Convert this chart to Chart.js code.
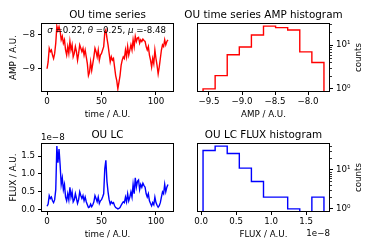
<!DOCTYPE html>
<html><head><meta charset="utf-8">
<script src="https://cdn.jsdelivr.net/npm/chart.js@4.4.0/dist/chart.umd.min.js"></script>
<style>
html,body{margin:0;padding:0;background:#fff;}
#wrap{position:relative;width:374px;height:249px;overflow:hidden;background:#fff;}
canvas{position:absolute;}
</style></head><body>
<div id="wrap">
<canvas id="c1" width="180" height="125" style="left:0;top:0"></canvas>
<canvas id="c2" width="197" height="125" style="left:177px;top:0"></canvas>
<canvas id="c3" width="180" height="124" style="left:0;top:125px"></canvas>
<canvas id="c4" width="197" height="124" style="left:177px;top:125px"></canvas>
</div>
<script>
// ---------------- data ----------------
const timeValues = [0,1,2,3,4,5,6,7,8,9,10,11,12,13,14,15,16,17,18,19,20,21,22,23,24,25,26,27,28,29,30,31,32,33,34,35,36,37,38,39,40,41,42,43,44,45,46,47,48,49,50,51,52,53,54,55,56,57,58,59,60,61,62,63,64,65,66,67,68,69,70,71,72,73,74,75,76,77,78,79,80,81,82,83,84,85,86,87,88,89,90,91,92,93,94,95,96,97,98,99,100,101,102,103,104,105,106,107,108,109,110,111];
const ampValues = [
 -9.00,-8.80,-8.40,-8.50,-8.45,-8.60,-8.70,-8.55,-8.25,-7.75,
 -7.88,-7.77,-7.90,-8.15,-8.05,-8.25,-8.15,-8.45,-8.60,-8.35,
 -8.55,-8.20,-8.45,-8.30,-8.65,-8.55,-8.35,-8.50,-8.75,-8.55,
 -8.30,-8.40,-8.50,-8.40,-8.60,-8.45,-8.65,-8.85,-9.20,-9.10,
 -8.80,-9.05,-8.85,-8.65,-8.40,-8.50,-8.65,-8.45,-8.75,-8.60,
 -8.55,-8.45,-8.35,-7.94,-7.86,-8.10,-8.30,-8.55,-8.80,-8.65,
 -8.75,-8.70,-8.95,-9.20,-9.35,-9.59,-9.40,-9.20,-8.90,-8.75,
 -8.65,-8.70,-8.45,-8.65,-8.35,-8.60,-8.45,-8.30,-8.45,-8.15,
 -8.35,-8.05,-8.20,-8.10,-8.08,-8.25,-8.15,-8.20,-8.13,-8.17,
 -8.20,-8.35,-8.45,-8.35,-8.60,-8.75,-8.95,-8.70,-8.85,-8.45,
 -8.70,-8.90,-9.15,-8.95,-8.70,-8.45,-8.30,-8.35,-8.15,-8.30,
 -8.20,-8.15];
// flux in units of 1e-8
const fluxValues = [
 0.100,0.158,0.398,0.316,0.355,0.251,0.200,0.282,0.562,1.778,
 1.318,1.698,1.259,0.708,0.891,0.562,0.708,0.355,0.251,0.447,
 0.282,0.631,0.355,0.501,0.224,0.282,0.447,0.316,0.178,0.282,
 0.501,0.398,0.316,0.398,0.251,0.355,0.224,0.141,0.063,0.079,
 0.158,0.089,0.141,0.224,0.398,0.316,0.224,0.355,0.178,0.251,
 0.282,0.355,0.447,1.148,1.380,0.794,0.501,0.282,0.158,0.224,
 0.178,0.200,0.112,0.063,0.045,0.026,0.040,0.063,0.126,0.178,
 0.224,0.200,0.355,0.224,0.447,0.251,0.355,0.501,0.355,0.708,
 0.447,0.891,0.631,0.794,0.832,0.562,0.708,0.631,0.741,0.676,
 0.631,0.447,0.355,0.447,0.251,0.178,0.112,0.200,0.141,0.355,
 0.200,0.126,0.071,0.112,0.200,0.355,0.501,0.447,0.708,0.501,
 0.631,0.708];
const ampBinEdges = [-9.59,-9.407,-9.224,-9.041,-8.858,-8.675,-8.492,-8.309,-8.126,-7.943,-7.76];
const ampCounts = [1,2,6,9,17,27,25,22,7,4];
const fluxBinEdges = [0.026,0.199,0.372,0.545,0.718,0.891,1.064,1.237,1.410,1.583,1.756];
const fluxCounts = [31,40,26,11,5,2,2,1,0,2];
const timeTicks = [0,50,100];
const ampTicks = [-9,-8];
const fluxTicks = [0,0.5,1.0,1.5];
const ampHistTicks = [-9.5,-9.0,-8.5,-8.0];
const countTicks = [1,10];
const countTickLabels = ['10\u2070','10\u00b9'];
const countMinorTicks = [2,3,4,5,6,7,8,9,20,30,40];
const titles = ['OU time series','OU time series AMP histogram','OU LC','OU LC FLUX histogram'];
const paramParts = [['\u03c3',true],[' =0.22, ',false],['\u03b8',true],[' =0.25, ',false],['\u03bc',true],[' =-8.48',false]];

// ---------------- helpers ----------------
const FONT = "'DejaVu Sans', sans-serif";
const TICKFONT = {family: FONT, size: 8.7, lineHeight: 1.2};
function minus(s){ return s.replace('-', '\u2212'); }
function pad(lo, hi){ const d = (hi - lo) * 0.05; return [lo - d, hi + d]; }
function padLog(lo, hi){ const a = Math.log10(lo), b = Math.log10(hi), d = (b - a) * 0.05; return [Math.pow(10, a - d), Math.pow(10, b + d)]; }
function stepPoints(edges, counts, floor){
  const pts = [{x: edges[0], y: floor}];
  counts.forEach((c, i) => pts.push({x: edges[i], y: c > 0 ? c : floor}));
  pts.push({x: edges[edges.length - 1], y: floor});
  return pts;
}
function gridOpts(){ return {display: true, drawOnChartArea: false, drawTicks: true, tickLength: 3, tickColor: '#000', tickWidth: 1}; }

function deco(spec){
  return {
    id: 'deco',
    afterDraw(chart){
      const ctx = chart.ctx, a = chart.chartArea;
      ctx.save();
      if (spec.minor){
        const s = chart.scales.y;
        ctx.strokeStyle = '#000'; ctx.lineWidth = 0.8;
        spec.minor.forEach(v => {
          if (v < s.min || v > s.max) return;
          const py = Math.round(s.getPixelForValue(v)) + 0.5;
          ctx.beginPath(); ctx.moveTo(a.right, py); ctx.lineTo(a.right + 2, py); ctx.stroke();
        });
      }
      ctx.strokeStyle = '#000'; ctx.lineWidth = 1;
      ctx.strokeRect(a.left + 0.5, a.top + 0.5, a.right - a.left - 1, a.bottom - a.top - 1);
      ctx.fillStyle = '#000';
      ctx.textAlign = 'center'; ctx.textBaseline = 'middle';
      ctx.font = '10.4px ' + FONT;
      ctx.fillText(spec.title, (a.left + a.right) / 2, a.top - 8);
      ctx.font = '8.7px ' + FONT;
      ctx.fillText(spec.xlabel, (a.left + a.right) / 2, a.bottom + 23);
      ctx.save();
      ctx.translate(spec.ylabelRight ? a.right + 29 : 14, (a.top + a.bottom) / 2);
      ctx.rotate(-Math.PI / 2);
      ctx.fillText(spec.ylabel, 0, 0);
      ctx.restore();
      if (spec.offsetTop){ ctx.textAlign = 'left'; ctx.fillText('1e\u22128', a.left, a.top - 5.5); }
      if (spec.offsetBottom){ ctx.textAlign = 'right'; ctx.fillText('1e\u22128', a.right, a.bottom + 21.5); }
      if (spec.params){
        let x = a.left + 6.3; const y = a.top + 7.5;
        ctx.textAlign = 'left';
        spec.params.forEach(([t, it]) => {
          ctx.font = (it ? 'italic ' : '') + '8.7px ' + FONT;
          ctx.fillText(t, x, y);
          x += ctx.measureText(t).width;
        });
      }
      ctx.restore();
    }
  };
}

function baseOpts(){
  return {responsive: false, animation: false, devicePixelRatio: 1, events: [],
    plugins: {legend: {display: false}, tooltip: {enabled: false}, title: {display: false}}};
}

// ---------------- time series (top-left) ----------------
(function(){
  const [xmin, xmax] = pad(Math.min(...timeValues), Math.max(...timeValues));
  const [ymin, ymax] = pad(Math.min(...ampValues), Math.max(...ampValues));
  const o = baseOpts();
  o.layout = {padding: {top: 23, right: 6, left: 0, bottom: 0}};
  o.scales = {
    x: {type: 'linear', bounds: 'data', min: xmin, max: xmax, grid: gridOpts(), border: {display: false},
        afterBuildTicks: s => { s.ticks = timeTicks.map(v => ({value: v})); },
        ticks: {font: TICKFONT, color: '#000', padding: 2, maxRotation: 0, autoSkip: false, callback: v => String(v)},
        afterFit: s => { s.height = 33; }},
    y: {type: 'linear', bounds: 'data', min: ymin, max: ymax, grid: gridOpts(), border: {display: false},
        afterBuildTicks: s => { s.ticks = ampTicks.map(v => ({value: v})); },
        ticks: {font: TICKFONT, color: '#000', padding: 3, autoSkip: false, callback: v => minus(String(v))},
        afterFit: s => { s.width = 41; }}
  };
  new Chart(document.getElementById('c1'), {
    type: 'line',
    data: {datasets: [{data: timeValues.map((t, i) => ({x: t, y: ampValues[i]})), borderColor: '#ff0000', borderWidth: 1.4, pointRadius: 0, tension: 0, fill: false}]},
    options: o,
    plugins: [deco({title: titles[0], xlabel: 'time / A.U.', ylabel: 'AMP / A.U.', params: paramParts})]
  });
})();

// ---------------- AMP histogram (top-right) ----------------
(function(){
  const [xmin, xmax] = pad(ampBinEdges[0], ampBinEdges[ampBinEdges.length - 1]);
  const pos = ampCounts.filter(c => c > 0);
  const [ymin, ymax] = padLog(Math.min(...pos), Math.max(...pos));
  const o = baseOpts();
  o.layout = {padding: {top: 23, right: 0, left: 20, bottom: 0}};
  o.scales = {
    x: {type: 'linear', bounds: 'data', min: xmin, max: xmax, grid: gridOpts(), border: {display: false},
        afterBuildTicks: s => { s.ticks = ampHistTicks.map(v => ({value: v})); },
        ticks: {font: TICKFONT, color: '#000', padding: 2, maxRotation: 0, autoSkip: false, callback: v => minus(v.toFixed(1))},
        afterFit: s => { s.height = 33; }},
    y: {type: 'logarithmic', position: 'right', bounds: 'data', min: ymin, max: ymax, grid: gridOpts(), border: {display: false},
        afterBuildTicks: s => { s.ticks = countTicks.map(v => ({value: v})); },
        ticks: {font: TICKFONT, color: '#000', padding: 3, autoSkip: false, callback: (v) => countTickLabels[countTicks.indexOf(v)]},
        afterFit: s => { s.width = 44; }}
  };
  new Chart(document.getElementById('c2'), {
    type: 'line',
    data: {datasets: [{data: stepPoints(ampBinEdges, ampCounts, 0.01), stepped: 'before', borderColor: '#ff0000', borderWidth: 1.4, pointRadius: 0, fill: false, clip: 0}]},
    options: o,
    plugins: [deco({title: titles[1], xlabel: 'AMP / A.U.', ylabel: 'counts', ylabelRight: true, minor: countMinorTicks})]
  });
})();

// ---------------- light curve (bottom-left) ----------------
(function(){
  const [xmin, xmax] = pad(Math.min(...timeValues), Math.max(...timeValues));
  const [ymin, ymax] = pad(Math.min(...fluxValues), Math.max(...fluxValues));
  const o = baseOpts();
  o.layout = {padding: {top: 18, right: 6, left: 0, bottom: 0}};
  o.scales = {
    x: {type: 'linear', bounds: 'data', min: xmin, max: xmax, grid: gridOpts(), border: {display: false},
        afterBuildTicks: s => { s.ticks = timeTicks.map(v => ({value: v})); },
        ticks: {font: TICKFONT, color: '#000', padding: 2, maxRotation: 0, autoSkip: false, callback: v => String(v)},
        afterFit: s => { s.height = 37; }},
    y: {type: 'linear', bounds: 'data', min: ymin, max: ymax, grid: gridOpts(), border: {display: false},
        afterBuildTicks: s => { s.ticks = fluxTicks.map(v => ({value: v})); },
        ticks: {font: TICKFONT, color: '#000', padding: 3, autoSkip: false, callback: v => v.toFixed(1)},
        afterFit: s => { s.width = 41; }}
  };
  new Chart(document.getElementById('c3'), {
    type: 'line',
    data: {datasets: [{data: timeValues.map((t, i) => ({x: t, y: fluxValues[i]})), borderColor: '#0000ff', borderWidth: 1.4, pointRadius: 0, tension: 0, fill: false}]},
    options: o,
    plugins: [deco({title: titles[2], xlabel: 'time / A.U.', ylabel: 'FLUX / A.U.', offsetTop: true})]
  });
})();

// ---------------- FLUX histogram (bottom-right) ----------------
(function(){
  const [xmin, xmax] = pad(fluxBinEdges[0], fluxBinEdges[fluxBinEdges.length - 1]);
  const pos = fluxCounts.filter(c => c > 0);
  const [ymin, ymax] = padLog(Math.min(...pos), Math.max(...pos));
  const o = baseOpts();
  o.layout = {padding: {top: 18, right: 0, left: 20, bottom: 0}};
  o.scales = {
    x: {type: 'linear', bounds: 'data', min: xmin, max: xmax, grid: gridOpts(), border: {display: false},
        afterBuildTicks: s => { s.ticks = fluxTicks.map(v => ({value: v})); },
        ticks: {font: TICKFONT, color: '#000', padding: 2, maxRotation: 0, autoSkip: false, callback: v => v.toFixed(1)},
        afterFit: s => { s.height = 37; }},
    y: {type: 'logarithmic', position: 'right', bounds: 'data', min: ymin, max: ymax, grid: gridOpts(), border: {display: false},
        afterBuildTicks: s => { s.ticks = countTicks.map(v => ({value: v})); },
        ticks: {font: TICKFONT, color: '#000', padding: 3, autoSkip: false, callback: (v) => countTickLabels[countTicks.indexOf(v)]},
        afterFit: s => { s.width = 44; }}
  };
  new Chart(document.getElementById('c4'), {
    type: 'line',
    data: {datasets: [{data: stepPoints(fluxBinEdges, fluxCounts, 0.01), stepped: 'before', borderColor: '#0000ff', borderWidth: 1.4, pointRadius: 0, fill: false, clip: 0}]},
    options: o,
    plugins: [deco({title: titles[3], xlabel: 'FLUX / A.U.', ylabel: 'counts', ylabelRight: true, minor: countMinorTicks, offsetBottom: true})]
  });
})();
</script>
</body></html>
